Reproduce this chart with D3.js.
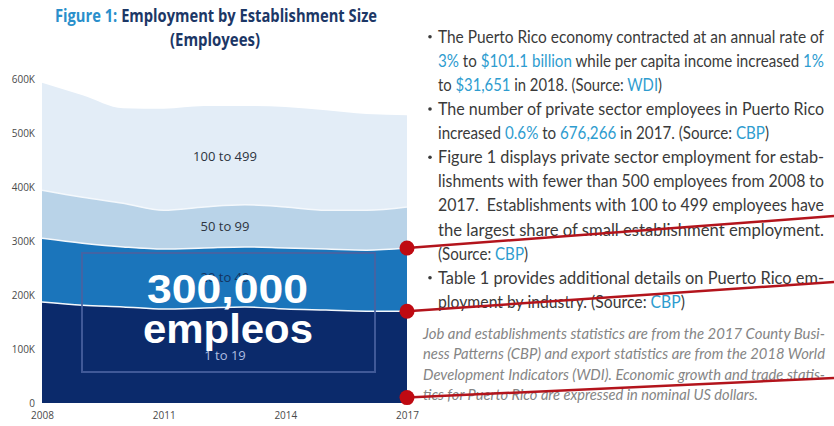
<!DOCTYPE html>
<html>
<head>
<meta charset="utf-8">
<script src="https://cdn.jsdelivr.net/npm/d3@7"></script>
<style>
  body { margin: 0; background: #fff; }
  svg { display: block; }
</style>
</head>
<body>
<svg width="834" height="426"></svg>
<script>
// data (employees, thousands)
const years = [2008, 2009, 2010, 2011, 2012, 2013, 2014, 2015, 2016, 2017];
const sizes = ['1 to 19', '20 to 49', '50 to 99', '100 to 499'];
const emp1to19 = [187, 181, 178, 174, 176, 178, 174, 172, 170, 170];
const emp20to49 = [118, 115, 111, 111, 111, 111, 113, 113, 113, 117];
const emp50to99 = [89, 85, 81, 72, 76, 78, 76, 72, 74, 76];
const emp100to499 = [199, 189, 176, 188, 187, 183, 185, 185, 178, 170];
const yTicks = [0, 100, 200, 300, 400, 500, 600];
const xTicks = [2008, 2011, 2014, 2017];
const colors = ['#0b2a6b', '#1b75bb', '#b9d3e8', '#e3edf7'];
const labelColors = ['#aebde0', '#14335f', '#2d3440', '#2d3440'];
// where the red markers point (value at 2017)
const markerValues = [287, 170, 10];

const svg = d3.select('svg');

const rows = years.map((yr, i) => ({
  year: yr,
  '1 to 19': emp1to19[i],
  '20 to 49': emp20to49[i],
  '50 to 99': emp50to99[i],
  '100 to 499': emp100to499[i]
}));

const stacked = d3.stack().keys(sizes)(rows);

const x = d3.scaleLinear().domain([2008, 2017]).range([42, 407]);
const y = d3.scaleLinear().domain([0, 600]).range([403, 79]);

// title
const title = svg.append('text')
  .attr('x', 55).attr('y', 22)
  .attr('textLength', 322).attr('lengthAdjust', 'spacingAndGlyphs')
  .style('font-family', '"Open Sans", sans-serif')
  .style('font-weight', 700).style('font-size', '17px');
title.append('tspan').attr('fill', '#2a8fcb').text('Figure 1: ');
title.append('tspan').attr('fill', '#1c3766').text('Employment by Establishment Size');
svg.append('text')
  .attr('x', 170).attr('y', 46)
  .attr('textLength', 90).attr('lengthAdjust', 'spacingAndGlyphs')
  .attr('fill', '#1c3766')
  .style('font-family', '"Open Sans", sans-serif')
  .style('font-weight', 700).style('font-size', '17px')
  .text('(Employees)');

// areas
const area = d3.area()
  .x((d, i) => x(years[i]))
  .y0(d => y(d[0]))
  .y1(d => y(d[1]))
  .curve(d3.curveMonotoneX);

svg.append('g').selectAll('path')
  .data(stacked)
  .join('path')
  .attr('d', area)
  .attr('fill', (d, i) => colors[i]);

const topLine = d3.line()
  .x((d, i) => x(years[i]))
  .y(d => y(d[1]))
  .curve(d3.curveMonotoneX);

svg.append('g').selectAll('path')
  .data(stacked.slice(0, 3))
  .join('path')
  .attr('d', topLine)
  .attr('fill', 'none')
  .attr('stroke', '#f4f8fc')
  .attr('stroke-width', 1.5);

// band labels, placed in the middle of each band around 2012.5
const labelYear = 4.5;
svg.append('g').selectAll('text')
  .data(stacked)
  .join('text')
  .attr('x', 225)
  .attr('y', d => {
    const a = d[4], b = d[5];
    return y(((a[0] + a[1]) / 2 + (b[0] + b[1]) / 2) / 2);
  })
  .attr('dy', '0.35em')
  .attr('text-anchor', 'middle')
  .attr('fill', (d, i) => labelColors[i])
  .style('font-family', '"Open Sans", sans-serif')
  .style('font-size', '13px')
  .text(d => d.key);

// axes
const yAxis = svg.append('g')
  .attr('transform', 'translate(35,0)')
  .call(d3.axisLeft(y).tickValues(yTicks).tickSize(0).tickPadding(0)
    .tickFormat(d => d === 0 ? '0' : d + 'K'));
const xAxis = svg.append('g')
  .attr('transform', 'translate(0,412)')
  .call(d3.axisBottom(x).tickValues(xTicks).tickSize(0).tickPadding(0)
    .tickFormat(d3.format('d')));
[yAxis, xAxis].forEach(g => {
  g.select('.domain').remove();
  g.selectAll('text')
    .attr('fill', '#4a4a4a')
    .style('font-family', '"Open Sans", sans-serif')
    .style('font-size', '10px');
});

// overlay box
svg.append('rect')
  .attr('x', 82).attr('y', 253)
  .attr('width', 293).attr('height', 119)
  .attr('fill', 'none')
  .attr('stroke', '#4a62a0')
  .attr('stroke-opacity', 0.85)
  .attr('stroke-width', 2);
svg.append('text')
  .attr('x', 147).attr('y', 303)
  .attr('textLength', 161).attr('lengthAdjust', 'spacingAndGlyphs')
  .attr('fill', '#fff')
  .style('font-family', '"Liberation Sans", Arial, sans-serif')
  .style('font-weight', 700).style('font-size', '41px')
  .text('300,000');
svg.append('text')
  .attr('x', 143).attr('y', 343)
  .attr('textLength', 170).attr('lengthAdjust', 'spacingAndGlyphs')
  .attr('fill', '#fff')
  .style('font-family', '"Liberation Sans", Arial, sans-serif')
  .style('font-weight', 700).style('font-size', '41px')
  .text('empleos');

// right-hand text
const dark = '#3a3a3a', link = '#2e9ccf';
const bodyLines = [
  { bullet: true, w: 386, parts: [['The Puerto Rico economy contracted at an annual rate of', dark]] },
  { w: 386, parts: [['3%', link], [' to ', dark], ['$101.1 billion', link], [' while per capita income increased ', dark], ['1%', link]] },
  { w: 224, parts: [['to ', dark], ['$31,651', link], [' in 2018. (Source: ', dark], ['WDI', link], [')', dark]] },
  { bullet: true, w: 386, parts: [['The number of private sector employees in Puerto Rico', dark]] },
  { w: 331, parts: [['increased ', dark], ['0.6%', link], [' to ', dark], ['676,266', link], [' in 2017. (Source: ', dark], ['CBP', link], [')', dark]] },
  { bullet: true, w: 386, parts: [['Figure 1 displays private sector employment for estab-', dark]] },
  { w: 386, parts: [['lishments with fewer than 500 employees from 2008 to', dark]] },
  { w: 386, parts: [['2017.  Establishments with 100 to 499 employees have', dark]] },
  { w: 386, parts: [['the largest share of small establishment employment.', dark]] },
  { w: 90, parts: [['(Source: ', dark], ['CBP', link], [')', dark]] },
  { bullet: true, w: 386, parts: [['Table 1 provides additional details on Puerto Rico em-', dark]] },
  { w: 247, parts: [['ployment by industry. (Source: ', dark], ['CBP', link], [')', dark]] }
];

const body = svg.append('g')
  .style('font-family', '"Liberation Sans Narrow", Lato, sans-serif')
  .style('font-size', '18px');
bodyLines.forEach((ln, i) => {
  const by = 42.7 + i * 24.1;
  if (ln.bullet) {
    body.append('circle').attr('cx', 430).attr('cy', by - 6).attr('r', 1.8).attr('fill', dark);
  }
  const t = body.append('text')
    .attr('x', 438).attr('y', by)
    .attr('textLength', ln.w).attr('lengthAdjust', 'spacingAndGlyphs')
    .style('white-space', 'pre');
  ln.parts.forEach(p => t.append('tspan').attr('fill', p[1]).text(p[0]));
});

const noteLines = [
  ['Job and establishments statistics are from the 2017 County Busi-', 402],
  ['ness Patterns (CBP) and export statistics are from the 2018 World', 402],
  ['Development Indicators (WDI). Economic growth and trade statis-', 402],
  ['tics for Puerto Rico are expressed in nominal US dollars.', 335]
];
svg.append('g').selectAll('text')
  .data(noteLines)
  .join('text')
  .attr('x', 423)
  .attr('y', (d, i) => 338.5 + i * 20.5)
  .attr('textLength', d => d[1]).attr('lengthAdjust', 'spacingAndGlyphs')
  .attr('fill', '#858585')
  .style('font-family', 'Lato, sans-serif')
  .style('font-style', 'italic')
  .style('font-size', '14.5px')
  .text(d => d[0]);

// red markers
const lineEnds = [216, 282, 378];
const markers = svg.append('g');
markers.selectAll('line')
  .data(markerValues)
  .join('line')
  .attr('x1', x(2017)).attr('y1', d => y(d))
  .attr('x2', 834).attr('y2', (d, i) => lineEnds[i])
  .attr('stroke', '#b3141c')
  .attr('stroke-width', 2.5);
markers.selectAll('circle')
  .data(markerValues)
  .join('circle')
  .attr('cx', x(2017)).attr('cy', d => y(d))
  .attr('r', 7.5)
  .attr('fill', '#bf0a12');
</script>
</body>
</html>
